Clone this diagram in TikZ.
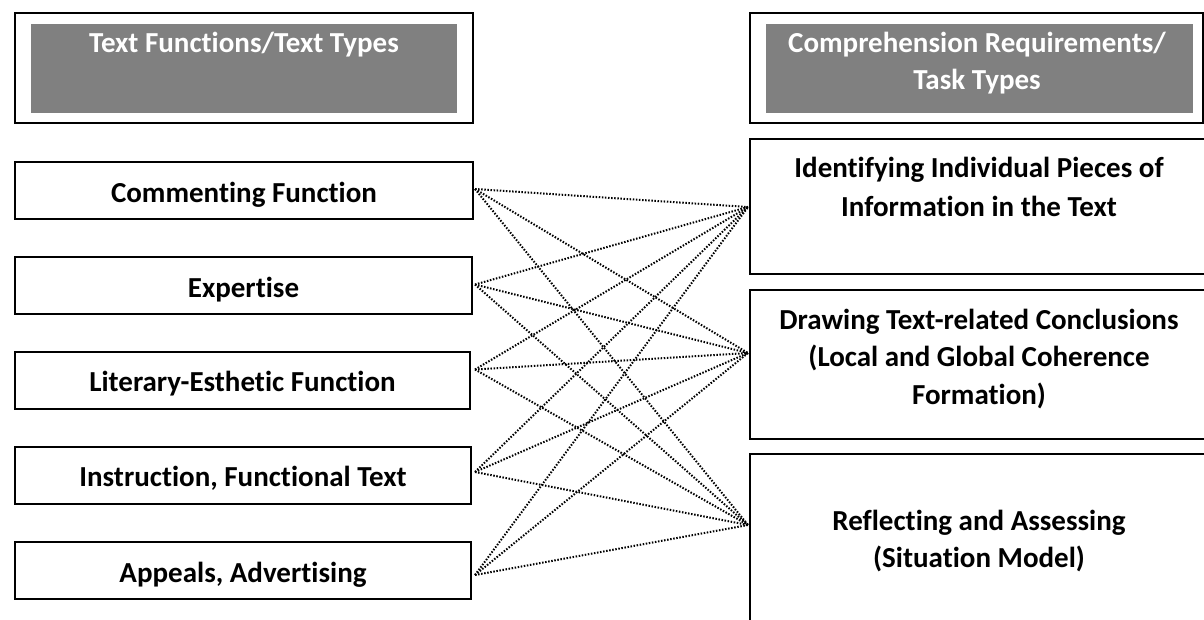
\documentclass[tikz,border=0pt]{standalone}
\usepackage{fontspec}
\setmainfont[Ligatures={NoCommon}]{Carlito}
\begin{document}
\begin{tikzpicture}[x=1pt,y=-1pt,
  box/.style={draw=black, line width=2pt, fill=white, inner sep=0pt, outer sep=0pt, anchor=north west},
  graybox/.style={fill=black!50, draw=none, inner sep=0pt, outer sep=0pt, anchor=north west},
  lbl/.style={font=\bfseries\fontsize{29}{38}\selectfont, inner sep=0pt, outer sep=0pt, anchor=base},
  hlbl/.style={lbl, text=white},
  conn/.style={line width=2pt, dash pattern=on 1.5pt off 1.6pt}]
\useasboundingbox (0,0) rectangle (1204,619);
\clip (0,0) rectangle (1204,619);
% headers
\node[box, minimum width=458pt, minimum height=110pt] (hl) at (15,13) {};
\node[graybox, minimum width=426pt, minimum height=89pt] (hlg) at (31,24) {};
\node[hlbl] (hl-t) at (244,52) {Text Functions/Text Types};
\node[box, minimum width=453pt, minimum height=110pt] (hr) at (750,13) {};
\node[graybox, minimum width=427pt, minimum height=89pt] (hrg) at (766,24) {};
\node[hlbl] (hr-t1) at (977,52) {Comprehension Requirements/};
\node[hlbl] (hr-t2) at (977,89) {Task Types};
% left boxes
\node[box, minimum width=458pt, minimum height=57pt] (cf) at (15,162) {};
\node[lbl] (cf-t) at (244,202) {Commenting Function};
\node[box, minimum width=457pt, minimum height=57pt] (ex) at (15,257) {};
\node[lbl] (ex-t) at (243.5,297) {Expertise};
\node[box, minimum width=455pt, minimum height=57pt] (le) at (15,352) {};
\node[lbl] (le-t) at (242.5,391) {Literary-Esthetic Function};
\node[box, minimum width=456pt, minimum height=57pt] (in) at (15,447) {};
\node[lbl] (in-t) at (243,486) {Instruction, Functional Text};
\node[box, minimum width=456pt, minimum height=57pt] (ap) at (15,542) {};
\node[lbl] (ap-t) at (243,582) {Appeals, Advertising};
% right boxes
\node[box, minimum width=458pt, minimum height=135pt] (id) at (750,139) {};
\node[lbl] (id-t1) at (979,177) {Identifying Individual Pieces of};
\node[lbl] (id-t2) at (979,216) {Information in the Text};
\node[box, minimum width=458pt, minimum height=149pt] (dr) at (750,290) {};
\node[lbl] (dr-t1) at (979,329) {Drawing Text-related Conclusions};
\node[lbl] (dr-t2) at (979,366.5) {(Local and Global Coherence};
\node[lbl] (dr-t3) at (979,404) {Formation)};
\node[box, minimum width=458pt, minimum height=200pt] (rf) at (750,454) {};
\node[lbl] (rf-t1) at (979,530.5) {Reflecting and Assessing};
\node[lbl] (rf-t2) at (979,567) {(Situation Model)};
% connector ends
\coordinate (L1) at (475,189);
\coordinate (L2) at (475,284.5);
\coordinate (L3) at (475,369.5);
\coordinate (L4) at (475,472);
\coordinate (L5) at (475,575);
\coordinate (R1) at (748,207);
\coordinate (R2) at (748,353);
\coordinate (R3) at (748,525);
\foreach \i in {1,...,5}{
  \foreach \j in {1,2,3}{
    \draw[conn] (L\i) -- (R\j);
  }
}
\end{tikzpicture}
\end{document}
